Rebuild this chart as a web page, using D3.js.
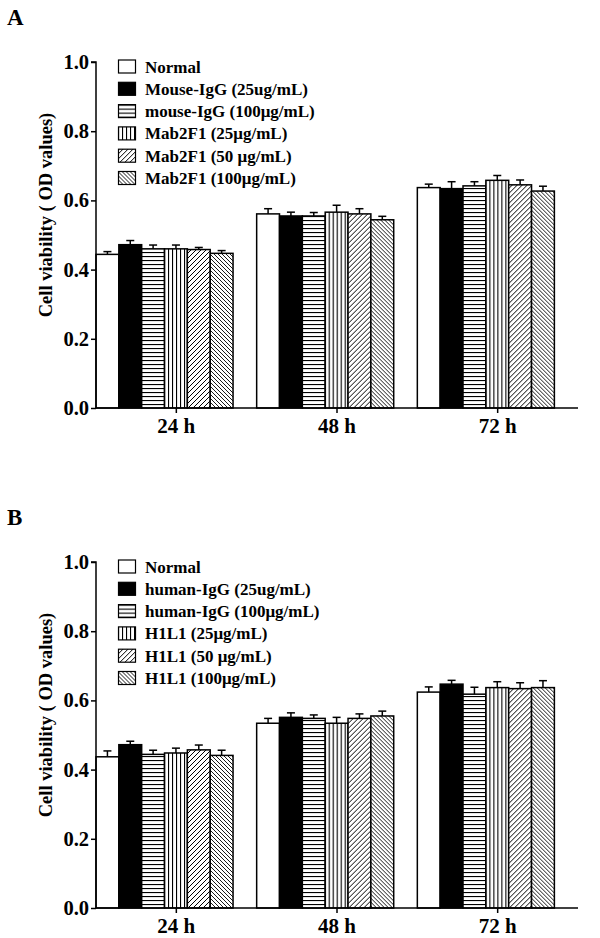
<!DOCTYPE html>
<html>
<head>
<meta charset="utf-8">
<script src="https://cdn.jsdelivr.net/npm/d3@7"></script>
<style>
  html, body { margin: 0; padding: 0; background: #fff; }
  svg { display: block; font-family: "Liberation Serif", "Times New Roman", serif; font-weight: bold; }
</style>
</head>
<body>
<svg id="chart" width="600" height="938"></svg>
<script>
// ---------- data ----------
const groups = ["24 h", "48 h", "72 h"];
const yTicks = [0.0, 0.2, 0.4, 0.6, 0.8, 1.0];

const seriesA = ["Normal", "Mouse-IgG (25ug/mL)", "mouse-IgG (100\u03bcg/mL)",
                 "Mab2F1 (25\u03bcg/mL)", "Mab2F1 (50 \u03bcg/mL)", "Mab2F1 (100\u03bcg/mL)"];
const seriesB = ["Normal", "human-IgG (25ug/mL)", "human-IgG (100\u03bcg/mL)",
                 "H1L1 (25\u03bcg/mL)", "H1L1 (50 \u03bcg/mL)", "H1L1 (100\u03bcg/mL)"];

// means per group (rows) x series (columns)
const meansA = [
  [0.444, 0.472, 0.460, 0.460, 0.458, 0.447],
  [0.561, 0.555, 0.555, 0.566, 0.561, 0.544],
  [0.637, 0.634, 0.642, 0.658, 0.645, 0.627]
];
const errA = [
  [0.008, 0.012, 0.011, 0.011, 0.006, 0.008],
  [0.015, 0.011, 0.010, 0.020, 0.015, 0.010],
  [0.010, 0.020, 0.012, 0.014, 0.014, 0.014]
];
const meansB = [
  [0.437, 0.472, 0.444, 0.448, 0.457, 0.441],
  [0.534, 0.551, 0.548, 0.534, 0.548, 0.555],
  [0.624, 0.647, 0.618, 0.637, 0.634, 0.637]
];
const errB = [
  [0.017, 0.010, 0.012, 0.014, 0.014, 0.015],
  [0.014, 0.013, 0.010, 0.017, 0.013, 0.014],
  [0.015, 0.011, 0.020, 0.017, 0.017, 0.020]
];

const fills = ["white", "black", "url(#pH)", "url(#pV)", "url(#pD)", "url(#pB)"];

// ---------- drawing ----------
const svg = d3.select("#chart");
const defs = svg.append("defs");

function pat(id, size, draw) {
  const p = defs.append("pattern").attr("id", id)
    .attr("patternUnits", "userSpaceOnUse").attr("width", size).attr("height", size);
  p.append("rect").attr("width", size).attr("height", size).attr("fill", "white");
  draw(p);
}
pat("pH", 4, p => p.append("line").attr("x1", 0).attr("x2", 4).attr("y1", 0.5).attr("y2", 0.5).attr("stroke", "black").attr("stroke-width", 1.2));
pat("pV", 4, p => p.append("line").attr("y1", 0).attr("y2", 4).attr("x1", 0.5).attr("x2", 0.5).attr("stroke", "black").attr("stroke-width", 1.2));
pat("pD", 5, p => {
  p.append("path").attr("d", "M-1,6 L6,-1 M-1,1 L1,-1 M4,6 L6,4").attr("stroke", "black").attr("stroke-width", 1);
});
pat("pB", 4, p => {
  p.append("path").attr("d", "M-1,-1 L5,5 M3,-1 L5,1 M-1,3 L1,5").attr("stroke", "black").attr("stroke-width", 0.9);
});

function panel(label, top, series, means, errs) {
  const x0 = 96, x1 = 578;
  const yTop = top, yBot = top + 346;
  const g = svg.append("g");

  const y = d3.scaleLinear().domain([0, 1]).range([yBot, yTop]);
  const xg = d3.scaleBand().domain(groups).range([x0, x1]).padding(0);
  const xs = d3.scaleBand().domain(d3.range(series.length))
    .range([0, xg.bandwidth() * 0.853]).padding(0);

  // panel label
  svg.append("text").attr("x", 7).attr("y", top - 37).attr("font-size", 23).text(label);

  // bars
  groups.forEach((grp, gi) => {
    const gg = g.append("g").attr("transform", `translate(${xg(grp)},0)`);
    series.forEach((s, si) => {
      const v = means[gi][si], e = errs[gi][si];
      const bx = xs(si), bw = xs.bandwidth();
      const cx = bx + bw / 2;
      gg.append("line").attr("x1", cx).attr("x2", cx)
        .attr("y1", y(v)).attr("y2", y(v + e)).attr("stroke", "black").attr("stroke-width", 1.5);
      gg.append("line").attr("x1", cx - 4).attr("x2", cx + 4)
        .attr("y1", y(v + e)).attr("y2", y(v + e)).attr("stroke", "black").attr("stroke-width", 1.5);
      gg.append("rect").attr("x", bx).attr("y", y(v)).attr("width", bw).attr("height", y(0) - y(v))
        .attr("fill", fills[si]).attr("stroke", "black").attr("stroke-width", 1.5);
    });
  });

  // axes
  const yAxis = d3.axisLeft(y).tickValues(yTicks).tickFormat(d3.format(".1f")).tickSize(5).tickPadding(2);
  const ya = svg.append("g").attr("transform", `translate(${x0},0)`).call(yAxis);
  ya.select(".domain").attr("d", `M-5,${yTop}H0V${yBot}`).attr("stroke-width", 1.5);
  ya.selectAll(".tick line").attr("stroke-width", 1.5);
  ya.selectAll(".tick text").attr("font-size", 20.5).attr("font-family", "Liberation Serif").attr("font-weight", "bold").attr("fill", "black");

  const xAxis = d3.axisBottom(xg).tickSize(5).tickPadding(5);
  const xa = svg.append("g").attr("transform", `translate(0,${yBot})`).call(xAxis);
  xa.select(".domain").attr("d", `M${x0},0H${x1}`).attr("stroke-width", 1.5);
  xa.selectAll(".tick line").attr("stroke-width", 1.5);
  xa.selectAll(".tick text").attr("font-size", 21).attr("font-family", "Liberation Serif").attr("font-weight", "bold").attr("fill", "black");

  // y title
  svg.append("text")
    .attr("transform", `translate(52,${top + 153}) rotate(-90)`)
    .attr("text-anchor", "middle").attr("font-size", 18.5)
    .text("Cell viability ( OD values)");

  // legend
  const lg = svg.append("g").attr("transform", `translate(118,${top - 2})`);
  series.forEach((s, si) => {
    const r = lg.append("g").attr("transform", `translate(0,${si * 22.3})`);
    r.append("rect").attr("x", 0.5).attr("y", 0).attr("width", 17).attr("height", 13)
      .attr("fill", fills[si]).attr("stroke", "black").attr("stroke-width", 1.2);
    r.append("text").attr("x", 27).attr("y", 12.5).attr("font-size", 17).text(s);
  });
}

panel("A", 62, seriesA, meansA, errA);
panel("B", 562, seriesB, meansB, errB);
</script>
</body>
</html>
